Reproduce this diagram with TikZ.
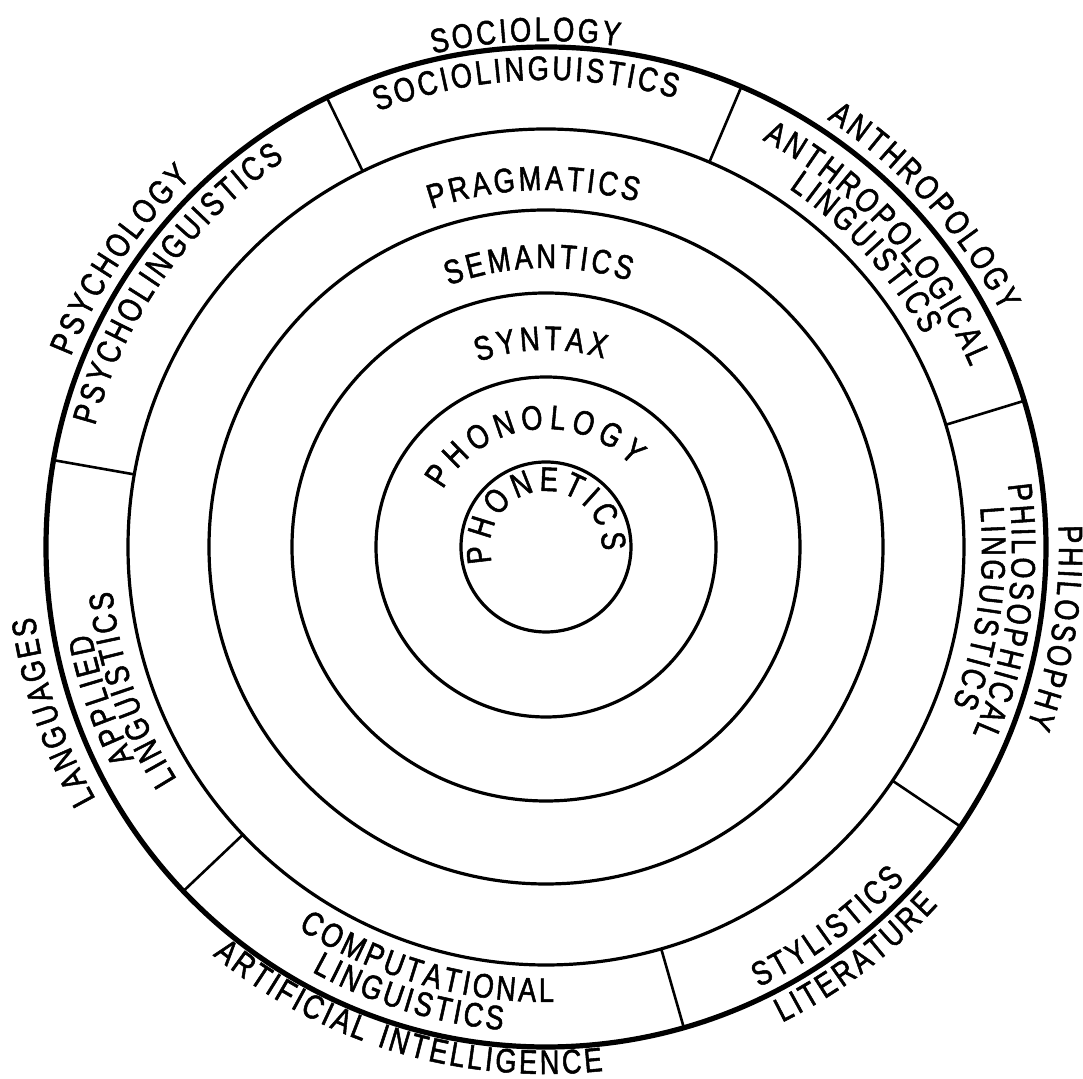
\documentclass[tikz,border=0pt]{standalone}
\usepackage{fontspec}
\newfontfamily\labfamily[FakeStretch=0.8,FakeBold=1.5]{Liberation Sans}
\newcommand\lab{\labfamily\fontsize{17pt}{20pt}\selectfont}
\protected\def\wsp{\hbox to 4.5pt{}}
\tikzset{
  ring/.style={line width=1.6pt},
  rim/.style={line width=2.6pt},
  divider/.style={line width=1.3pt},
  letter/.style={font=\lab, inner sep=0pt, anchor=base},
}
% #1 baseline radius, #2 centre angle, #3 direction (1 = clockwise, tops out; -1 = anticlockwise, tops in),
% #4 tracking (pt), #5 name prefix, #6 letters
\newcommand\arcword[6]{%
  \begingroup
  \lab
  \xdef\awtot{0}%
  \foreach \ch in {#6}{%
    \pgfmathparse{\awtot+width("\ch")+#4}%
    \xdef\awtot{\pgfmathresult}%
  }%
  \pgfmathparse{\awtot-#4}\xdef\awtot{\pgfmathresult}%
  \xdef\awcum{0}%
  \foreach \ch [count=\i] in {#6}{%
    \pgfmathsetmacro\chw{width("\ch")}%
    \pgfmathsetmacro\ang{#2-(#3)*(\awcum+\chw/2-\awtot/2)*2/#1*180/pi}%
    \pgfmathsetmacro\rot{\ang-(#3)*90}%
    \node[letter, rotate=\rot] (#5\i) at (\ang:#1) {\ch};
    \pgfmathparse{\awcum+\chw+#4}%
    \xdef\awcum{\pgfmathresult}%
  }%
  \endgroup
}
\begin{document}
\begin{tikzpicture}[x=0.5pt,y=0.5pt]
\fill[white] (-546,-532) rectangle (537,547);
\useasboundingbox (-546,-532) rectangle (537,547);
\coordinate (O) at (0,0);
% circles
\draw[ring] (O) circle[radius=85];
\draw[ring] (O) circle[radius=170];
\draw[ring] (O) circle[radius=254];
\draw[ring] (O) circle[radius=337];
\draw[ring] (O) circle[radius=418];
\draw[rim]  (O) circle[radius=500];
% dividers of the outer ring
\foreach \a in {116,67,17,-34,-74,-136.5,170}
  \draw[divider] (\a:418) -- (\a:500);
% inner fields
\arcword{56}{96}{1}{2.3}{phonetics}{P,H,O,N,E,T,I,C,S}
\arcword{118}{97}{1}{2.9}{phonology}{P,H,O,N,O,L,O,G,Y}
\arcword{197}{91.5}{1}{1.9}{syntax}{S,Y,N,T,A,X}
\arcword{279}{91.5}{1}{1.6}{semantics}{S,E,M,A,N,T,I,C,S}
\arcword{357}{92}{1}{1.6}{pragmatics}{P,R,A,G,M,A,T,I,C,S}
% outer ring fields
\arcword{467}{92.5}{1}{1.5}{socioling}{S,O,C,I,O,L,I,N,G,U,I,S,T,I,C,S}
\arcword{467}{144.5}{1}{1.5}{psycholing}{P,S,Y,C,H,O,L,I,N,G,U,I,S,T,I,C,S}
\arcword{461}{42.5}{1}{1.5}{anthrolingA}{A,N,T,H,R,O,P,O,L,O,G,I,C,A,L}
\arcword{433}{42.6}{1}{1.5}{anthrolingB}{L,I,N,G,U,I,S,T,I,C,S}
\arcword{466}{-8}{1}{1.5}{philolingA}{P,H,I,L,O,S,O,P,H,I,C,A,L}
\arcword{436}{-8}{1}{1.5}{philolingB}{L,I,N,G,U,I,S,T,I,C,S}
\arcword{463}{199}{1}{1.5}{appliedA}{A,P,P,L,I,E,D}
\arcword{436}{199}{1}{1.5}{appliedB}{L,I,N,G,U,I,S,T,I,C,S}
\arcword{455}{254}{-1}{1.5}{compA}{C,O,M,P,U,T,A,T,I,O,N,A,L}
\arcword{485}{253}{-1}{1.5}{compB}{L,I,N,G,U,I,S,T,I,C,S}
\arcword{489}{306.5}{-1}{1.5}{stylistics}{S,T,Y,L,I,S,T,I,C,S}
% neighbouring disciplines
\arcword{506}{92.3}{1}{1.5}{sociology}{S,O,C,I,O,L,O,G,Y}
\arcword{512}{146}{1}{1.5}{psychology}{P,S,Y,C,H,O,L,O,G,Y}
\arcword{512}{42}{1}{1.5}{anthropology}{A,N,T,H,R,O,P,O,L,O,G,Y}
\arcword{513}{-9}{1}{1.5}{philosophy}{P,H,I,L,O,S,O,P,H,Y}
\arcword{516}{198.5}{1}{1.5}{languages}{L,A,N,G,U,A,G,E,S}
\arcword{527}{253.5}{-1}{1.5}{ai}{A,R,T,I,F,I,C,I,A,L,\wsp,I,N,T,E,L,L,I,G,E,N,C,E}
\arcword{531}{307}{-1}{1.5}{literature}{L,I,T,E,R,A,T,U,R,E}
\end{tikzpicture}
\end{document}
